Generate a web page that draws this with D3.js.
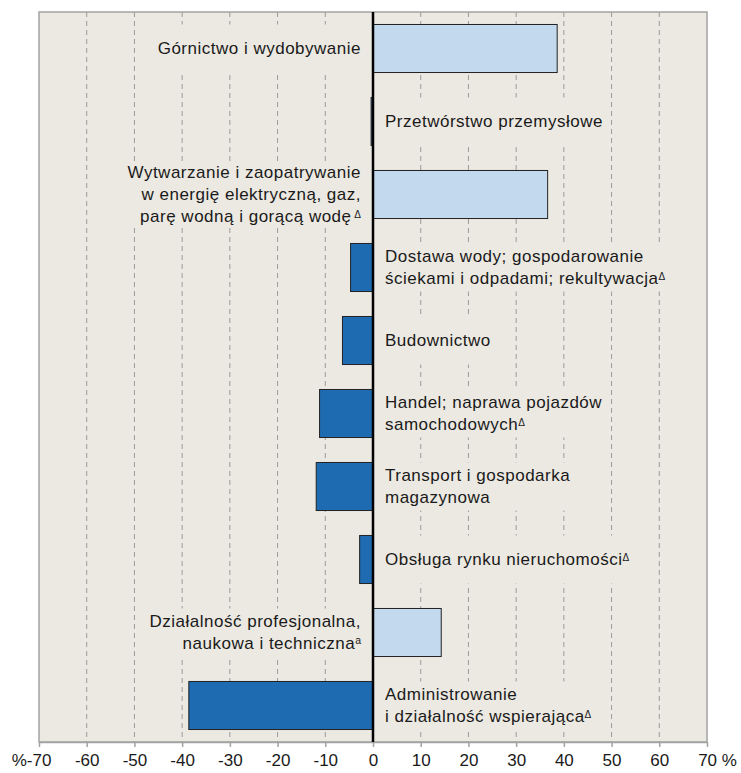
<!DOCTYPE html>
<html>
<head>
<meta charset="utf-8">
<script src="https://cdn.jsdelivr.net/npm/d3@7"></script>
<style>
  body { margin: 0; background: #fff; }
  text { font-family: "Liberation Sans", Arial, sans-serif; fill: #1a1a1a; }
</style>
</head>
<body>
<div id="chart"></div>
<script>
// categories, each split into the lines shown in the picture
const categories = [
  ["Górnictwo i wydobywanie"],
  ["Przetwórstwo przemysłowe"],
  ["Wytwarzanie i zaopatrywanie", "w energię elektryczną, gaz,", "parę wodną i gorącą wodę"],
  ["Dostawa wody; gospodarowanie", "ściekami i odpadami; rekultywacja"],
  ["Budownictwo"],
  ["Handel; naprawa pojazdów", "samochodowych"],
  ["Transport i gospodarka", "magazynowa"],
  ["Obsługa rynku nieruchomości"],
  ["Działalność profesjonalna,", "naukowa i techniczna"],
  ["Administrowanie", "i działalność wspierająca"]
]
// footnote marks after the last line of each label
const notes = ["", "", " Δ", "Δ", "", "Δ", "", "Δ", "a", "Δ"]
const values = [38.6, -0.4, 36.6, -4.7, -6.4, -11.2, -11.9, -2.8, 14.3, -38.6]
const ticks = [-70, -60, -50, -40, -30, -20, -10, 0, 10, 20, 30, 40, 50, 60, 70]

const W = 741, H = 773
const margin = {top: 12, right: 34, bottom: 31, left: 39}
const width = W - margin.left - margin.right
const height = H - margin.top - margin.bottom

const bg = '#ECE9E2'
const colPos = '#C3D9ED'
const colNeg = '#1F6BB1'

const svg = d3.select('#chart').append('svg')
  .attr('width', W)
  .attr('height', H)

const g = svg.append('g')
  .attr('transform', `translate(${margin.left},${margin.top})`)

const x = d3.scaleLinear().domain([-70, 70]).range([0, width])
const y = d3.scaleBand()
  .domain(d3.range(categories.length))
  .range([0, height])
  .paddingInner(0.342)
  .paddingOuter(0.171)

// plot background
g.append('rect')
  .attr('width', width)
  .attr('height', height)
  .attr('fill', bg)

// dashed grid
g.append('g').attr('class', 'grid')
  .selectAll('line')
  .data(ticks.filter(t => t !== 0 && Math.abs(t) !== 70))
  .join('line')
  .attr('x1', d => x(d)).attr('x2', d => x(d))
  .attr('y1', 0).attr('y2', height)
  .attr('stroke', '#9a9a9a')
  .attr('stroke-width', 1)
  .attr('stroke-dasharray', '5,4')

// labels (with a background patch that hides the grid behind them)
const lineH = 22
const labels = g.append('g').attr('class', 'labels')
categories.forEach((lines, i) => {
  const v = values[i]
  const left = v >= 0
  const cy = y(i) + y.bandwidth() / 2
  const lx = left ? x(0) - 12 : x(0) + 12
  const lg = labels.append('g')
  const patch = lg.append('rect').attr('fill', bg)
  const text = lg.append('text')
    .attr('text-anchor', left ? 'end' : 'start')
    .attr('font-size', 17)
    .attr('letter-spacing', 0.5)
  lines.forEach((ln, j) => {
    const base = cy + 5 + (j - (lines.length - 1) / 2) * lineH
    text.append('tspan')
      .attr('x', lx)
      .attr('y', base)
      .text(ln)
    if (j === lines.length - 1 && notes[i]) {
      const up = notes[i] === 'a' ? 5 : 4
      text.append('tspan')
        .attr('dy', -up)
        .attr('font-size', notes[i] === 'a' ? 10.5 : 10)
        .attr('letter-spacing', 0)
        .text(notes[i])
    }
  })
  const bb = text.node().getBBox()
  const ph = Math.max(y.bandwidth(), bb.height + 4)
  const x0 = left ? bb.x - 3 : x(0)
  const x1 = left ? x(0) : bb.x + bb.width + 3
  patch.attr('x', x0).attr('width', x1 - x0)
    .attr('y', cy - ph / 2).attr('height', ph)
})

// bars
g.append('g').attr('class', 'bars')
  .selectAll('rect')
  .data(values)
  .join('rect')
  .attr('x', d => x(Math.min(0, d)))
  .attr('width', d => Math.abs(x(d) - x(0)))
  .attr('y', (d, i) => y(i))
  .attr('height', y.bandwidth())
  .attr('fill', d => d >= 0 ? colPos : colNeg)
  .attr('stroke', '#222')
  .attr('stroke-width', 1)

// frame
g.append('rect')
  .attr('width', width)
  .attr('height', height)
  .attr('fill', 'none')
  .attr('stroke', '#a3a3a3')
  .attr('stroke-width', 1.5)

// bottom axis
const axis = g.append('g')
  .attr('transform', `translate(0,${height})`)
  .call(d3.axisBottom(x)
    .tickValues(ticks)
    .tickSize(5)
    .tickSizeOuter(0)
    .tickFormat(d => d === -70 ? '%-70' : d === 70 ? '70 %' : String(d)))
axis.select('.domain').attr('stroke', '#a3a3a3').attr('stroke-width', 1.5)
axis.selectAll('.tick line').attr('stroke', '#a3a3a3').attr('stroke-width', 1.5)
axis.selectAll('.tick text')
  .attr('font-size', 17)
  .attr('font-family', '"Liberation Sans", Arial, sans-serif')
  .attr('fill', '#1a1a1a')
  .attr('y', 12)
  .attr('dx', d => d === -70 ? -8 : d === 70 ? 10 : 0)

// zero line
g.append('line')
  .attr('x1', x(0)).attr('x2', x(0))
  .attr('y1', 0).attr('y2', height)
  .attr('stroke', '#000')
  .attr('stroke-width', 2.5)
</script>
</body>
</html>
